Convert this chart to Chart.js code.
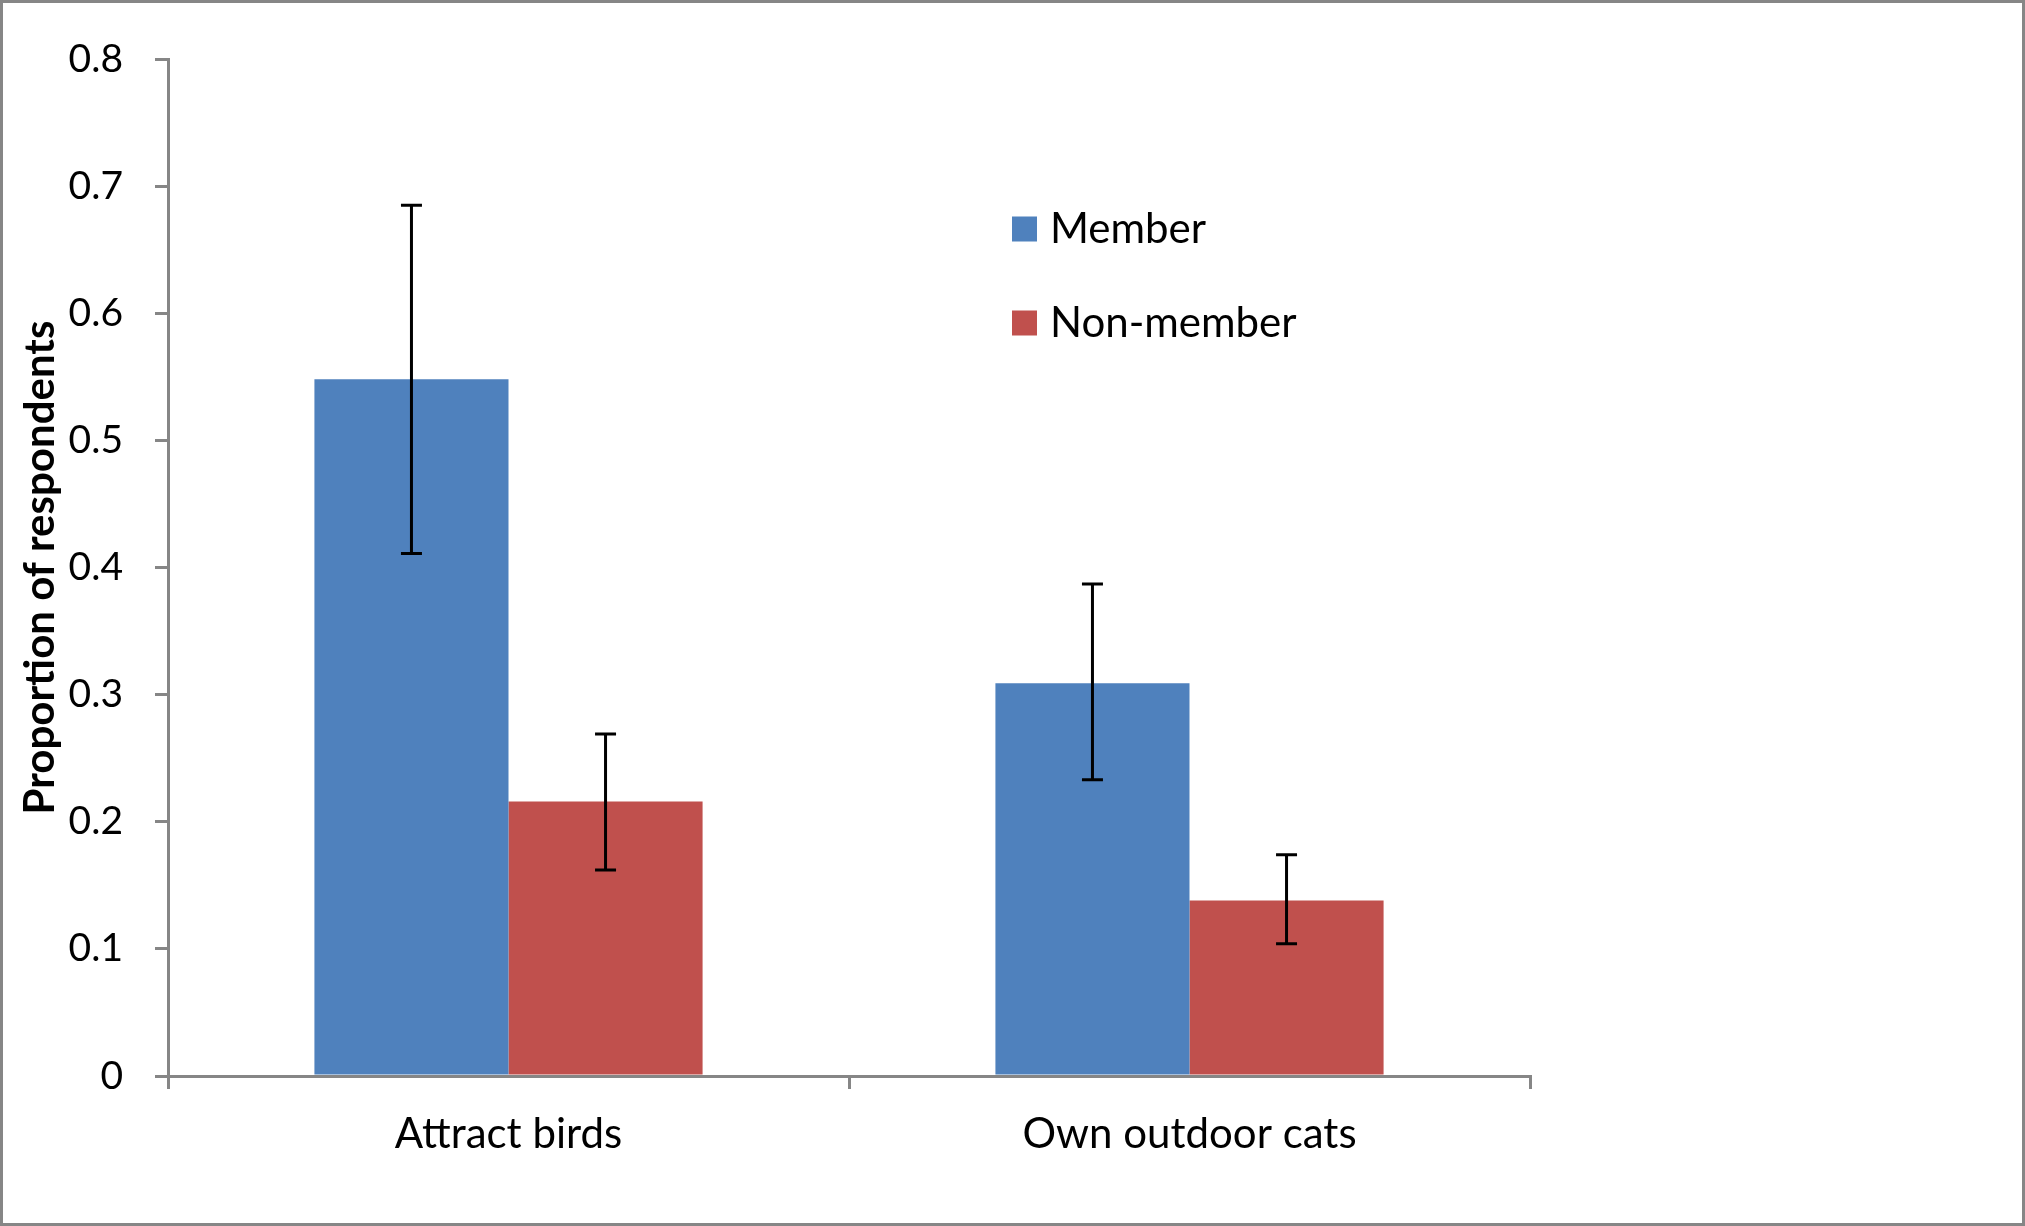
<!DOCTYPE html>
<html>
<head>
<meta charset="utf-8">
<script src="https://cdn.jsdelivr.net/npm/chart.js"></script>
<style>
  html, body { margin: 0; padding: 0; background: #fff; }
  #wrap { width: 2025px; height: 1226px; }
</style>
</head>
<body>
<div id="wrap"><canvas id="respondentChart"></canvas></div>
<script>
var categories = ["Attract birds", "Own outdoor cats"];
var seriesNames = ["Member", "Non-member"];
var memberValues = [0.548, 0.309];
var nonMemberValues = [0.216, 0.138];
// error bar ends (low / high)
var memberLow = [0.411, 0.233];
var memberHigh = [0.685, 0.387];
var nonMemberLow = [0.162, 0.104];
var nonMemberHigh = [0.269, 0.174];

var axisGray = "#868686";
var fontName = "Lato, 'Open Sans', sans-serif";

Chart.defaults.color = "#000";
Chart.defaults.font.family = fontName;

// black error bars with caps, drawn from the y scale
var errorBars = {
    id: "errorBars",
    afterDatasetsDraw: function (chart) {
        var ctx = chart.ctx;
        var yScale = chart.scales.y;
        ctx.save();
        ctx.strokeStyle = "#000";
        ctx.lineWidth = 3;
        chart.data.datasets.forEach(function (ds, i) {
            var meta = chart.getDatasetMeta(i);
            meta.data.forEach(function (bar, j) {
                var x = bar.x;
                var yLow = yScale.getPixelForValue(ds.errLow[j]);
                var yHigh = yScale.getPixelForValue(ds.errHigh[j]);
                ctx.beginPath();
                ctx.moveTo(x, yLow);
                ctx.lineTo(x, yHigh);
                ctx.moveTo(x - 10.5, yLow);
                ctx.lineTo(x + 10.5, yLow);
                ctx.moveTo(x - 10.5, yHigh);
                ctx.lineTo(x + 10.5, yHigh);
                ctx.stroke();
            });
        });
        ctx.restore();
    }
};

// legend inside the plot plus the outer frame
var frameAndLegend = {
    id: "frameAndLegend",
    afterDraw: function (chart) {
        var ctx = chart.ctx;
        ctx.save();
        ctx.strokeStyle = axisGray;
        ctx.lineWidth = 3;
        ctx.strokeRect(1.5, 1.5, chart.width - 3, chart.height - 3);

        ctx.font = "42px " + fontName;
        ctx.textBaseline = "middle";
        ctx.textAlign = "left";
        chart.data.datasets.forEach(function (ds, i) {
            var cy = 229 + i * 94;
            ctx.fillStyle = ds.backgroundColor;
            ctx.fillRect(1012, cy - 12.5, 25, 25);
            ctx.fillStyle = "#000";
            ctx.fillText(ds.label, 1050, cy);
        });
        ctx.restore();
    }
};

new Chart("respondentChart", {
    type: "bar",
    data: {
        labels: categories,
        datasets: [{
            label: seriesNames[0],
            data: memberValues,
            backgroundColor: "#4F81BD",
            errLow: memberLow,
            errHigh: memberHigh
        }, {
            label: seriesNames[1],
            data: nonMemberValues,
            backgroundColor: "#C0504D",
            errLow: nonMemberLow,
            errHigh: nonMemberHigh
        }]
    },
    options: {
        responsive: true,
        maintainAspectRatio: false,
        animation: false,
        layout: {
            padding: { left: 0, top: 59, right: 495, bottom: 0 }
        },
        datasets: {
            bar: { categoryPercentage: 0.57, barPercentage: 1.0 }
        },
        plugins: {
            legend: { display: false },
            tooltip: { enabled: false }
        },
        scales: {
            x: {
                grid: {
                    drawOnChartArea: false,
                    color: axisGray,
                    lineWidth: 3,
                    tickLength: 13
                },
                border: { color: axisGray, width: 3 },
                ticks: {
                    font: { size: 42 },
                    padding: 20,
                    color: "#000"
                },
                afterFit: function (scale) { scale.height = 150; }
            },
            y: {
                min: 0,
                max: 0.8,
                grid: {
                    drawOnChartArea: false,
                    color: axisGray,
                    lineWidth: 3,
                    tickLength: 13
                },
                border: { color: axisGray, width: 3 },
                ticks: {
                    stepSize: 0.1,
                    font: { size: 39 },
                    padding: 32,
                    color: "#000",
                    callback: function (v) { return String(+v.toFixed(1)); }
                },
                title: {
                    display: true,
                    text: "Proportion of respondents",
                    font: { size: 42, weight: "bold" },
                    padding: { top: 15, bottom: 0 },
                    color: "#000"
                },
                afterFit: function (scale) { scale.width = 168; }
            }
        }
    },
    plugins: [errorBars, frameAndLegend]
});
</script>
</body>
</html>
